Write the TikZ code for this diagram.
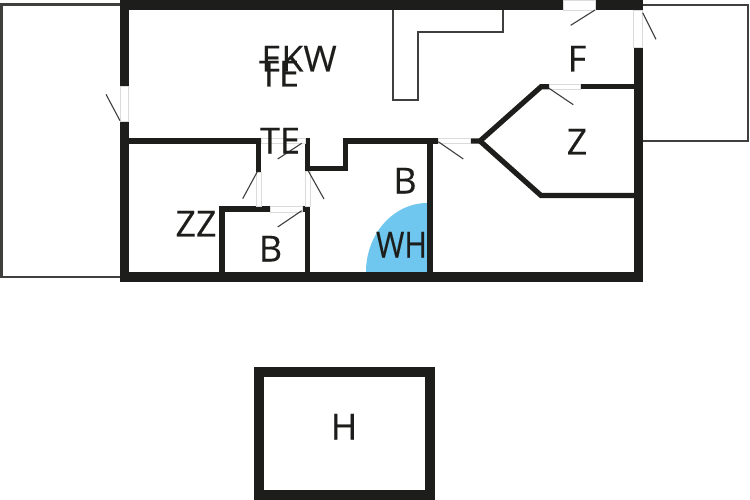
\documentclass[tikz,border=0pt]{standalone}
\usepackage{fontspec}
\usepackage{graphicx}
\setmainfont[FakeBold=0.25]{Open Sans}
\definecolor{wallc}{HTML}{1D1D1B}
\definecolor{wetc}{HTML}{6FC6EE}
\tikzset{
  wall/.style={fill=wallc},
  partition/.style={draw=wallc, line width=5.2pt, line join=miter},
  outline/.style={draw=wallc!85!white, line width=2.2pt},
  fineline/.style={draw=wallc!85!white, line width=1.2pt},
  swing/.style={draw=wallc!85!white, line width=1.1pt},
  jamb/.style={draw=black!14, line width=.6pt},
  roomlabel/.style={anchor=base, inner sep=0, text=wallc, font=\fontsize{36}{36}\selectfont}
}
\begin{document}
\begin{tikzpicture}[x=1pt,y=-1pt]
\useasboundingbox[fill=white] (0,0) rectangle (750,500);
% terraces
\draw[outline] (120,4.5)--(1.5,4.5)--(1.5,277)--(120,277);
\draw[outline] (642,5)--(748,5)--(748,141)--(642,141);
% chimney
\draw[fineline] (393,10)--(393,100)--(418,100)--(418,32)--(503,32)--(503,10);
% wet area
\fill[wetc] (366,272) arc[start angle=180, end angle=270, x radius=61.5, y radius=69]--(427.5,272)--cycle;
% outer walls
\fill[wall] (120,0) rectangle (563,10);
\fill[wall] (595,0) rectangle (642.7,10);
\fill[wall] (120,0) rectangle (128.7,86);
\fill[wall] (120,121) rectangle (128.7,282);
\fill[wall] (120,272) rectangle (642.7,282);
\fill[wall] (633.7,47) rectangle (642.7,282);
% inner walls
\draw[partition] (128,141)--(261,141);
\draw[partition] (258.5,141)--(258.5,172);
\draw[partition] (307.5,138)--(307.5,168.5)--(345.5,168.5)--(345.5,141)--(438.5,141);
\draw[partition] (430,141)--(430,272);
\draw[partition] (470,141)--(480,141)--(541,86.8)--(549,86.8);
\draw[partition] (580,86.8)--(634,86.8);
\draw[partition] (480,141)--(541,195.5)--(634,195.5);
\draw[partition] (222,272)--(222,209)--(270,209);
\draw[partition] (302,209)--(307.5,209);
\draw[partition] (307.5,206.4)--(307.5,272);
% door openings
\foreach \xa/\ya/\xb/\yb in {120/86/128.7/121, 563/0/595/10, 633.7/10/642.7/47, 549/84/580/89.6, 438.5/138.4/470/143.6, 261/138.4/305/143.6, 256/172/261/206, 305/171/310/206, 270/206.4/302/212} {
 \draw[jamb] (\xa,\ya) rectangle (\xb,\yb);
}
% door leaves
\foreach \xa/\ya/\xb/\yb in {120/120.7/106/94.3, 595/10/570.7/25.3, 642.7/12.7/656/39.3, 549/88.3/573.3/104.7, 438.3/141.7/463.3/159, 301.7/143.3/277.7/159, 257.3/171.7/242.7/198.7, 308.3/171/324/199, 301.7/210.7/277.7/227} {
 \draw[swing] (\xa,\ya)--(\xb,\yb);
}
% garage
\draw[draw=wallc, line width=10pt] (258.9,372)--(429.5,372)--(429.5,494.5)--(258.9,494.5)--cycle;
% rooms
\node[roomlabel] (ekw) at (299,71.5) {EKW};
\node[roomlabel] (teupper) at (279,86.5) {TE};
\node[roomlabel] (telower) at (280,153.5) {TE};
\node[roomlabel] (zz) at (196,236.5) {ZZ};
\node[roomlabel] (bsmall) at (270.5,261.5) {B};
\node[roomlabel] (blarge) at (405,193.5) {B};
\node[roomlabel] (wh) at (401.5,257.5) {\scalebox{.85}[1]{WH}};
\node[roomlabel] (f) at (577,71.5) {F};
\node[roomlabel] (z) at (577,154.5) {Z};
\node[roomlabel] (h) at (344,439.5) {H};
\end{tikzpicture}
\end{document}
